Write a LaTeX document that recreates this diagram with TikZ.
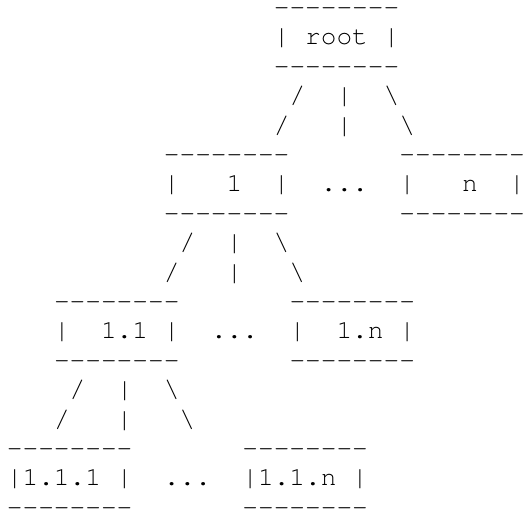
\documentclass[tikz,border=0pt]{standalone}
\usepackage{fontspec}
\setmonofont{TeX Gyre Cursor}
\usetikzlibrary{positioning}
\tikzset{ascii/.style={font=\ttfamily\fontsize{19.6pt}{22pt}\selectfont,inner sep=0pt,anchor=base west}}
\newcommand{\bs}{\textbackslash}

\begin{document}
\begin{tikzpicture}[x=11.775pt,y=-22.05pt]
    \useasboundingbox (0pt,0pt) rectangle (396.75pt,-381.75pt);
    \begin{scope}[shift={(4.99pt,-11.7pt)},every node/.style={ascii}]
        % root
        \node (root-top) at (17,0) {--------};
        \node (root)     at (17,1) {|\ root\ |};
        \node (root-bot) at (17,2) {--------};
        \node (fan0a) at (18,3) {/\ \ |\ \ \bs};
        \node (fan0b) at (17,4) {/\ \ \ |\ \ \ \bs};
        % level 1
        \node (n1-top) at (10,5) {--------};
        \node (n1)     at (10,6) {|\ \ \ 1\ \ |};
        \node (n1-bot) at (10,7) {--------};
        \node (dots1)  at (20,6) {...};
        \node (nn-top) at (25,5) {--------};
        \node (nn)     at (25,6) {|\ \ \ n\ \ |};
        \node (nn-bot) at (25,7) {--------};
        \node (fan1a) at (11,8) {/\ \ |\ \ \bs};
        \node (fan1b) at (10,9) {/\ \ \ |\ \ \ \bs};
        % level 2
        \node (n11-top) at (3,10) {--------};
        \node (n11)     at (3,11) {|\ \ 1.1\ |};
        \node (n11-bot) at (3,12) {--------};
        \node (dots2)   at (13,11) {...};
        \node (n1n-top) at (18,10) {--------};
        \node (n1n)     at (18,11) {|\ \ 1.n\ |};
        \node (n1n-bot) at (18,12) {--------};
        \node (fan2a) at (4,13) {/\ \ |\ \ \bs};
        \node (fan2b) at (3,14) {/\ \ \ |\ \ \ \bs};
        % level 3
        \node (n111-top) at (0,15) {--------};
        \node (n111)     at (0,16) {|1.1.1\ |};
        \node (n111-bot) at (0,17) {--------};
        \node (dots3)    at (10,16) {...};
        \node (n11n-top) at (15,15) {--------};
        \node (n11n)     at (15,16) {|1.1.n\ |};
        \node (n11n-bot) at (15,17) {--------};
    \end{scope}
\end{tikzpicture}
\end{document}
